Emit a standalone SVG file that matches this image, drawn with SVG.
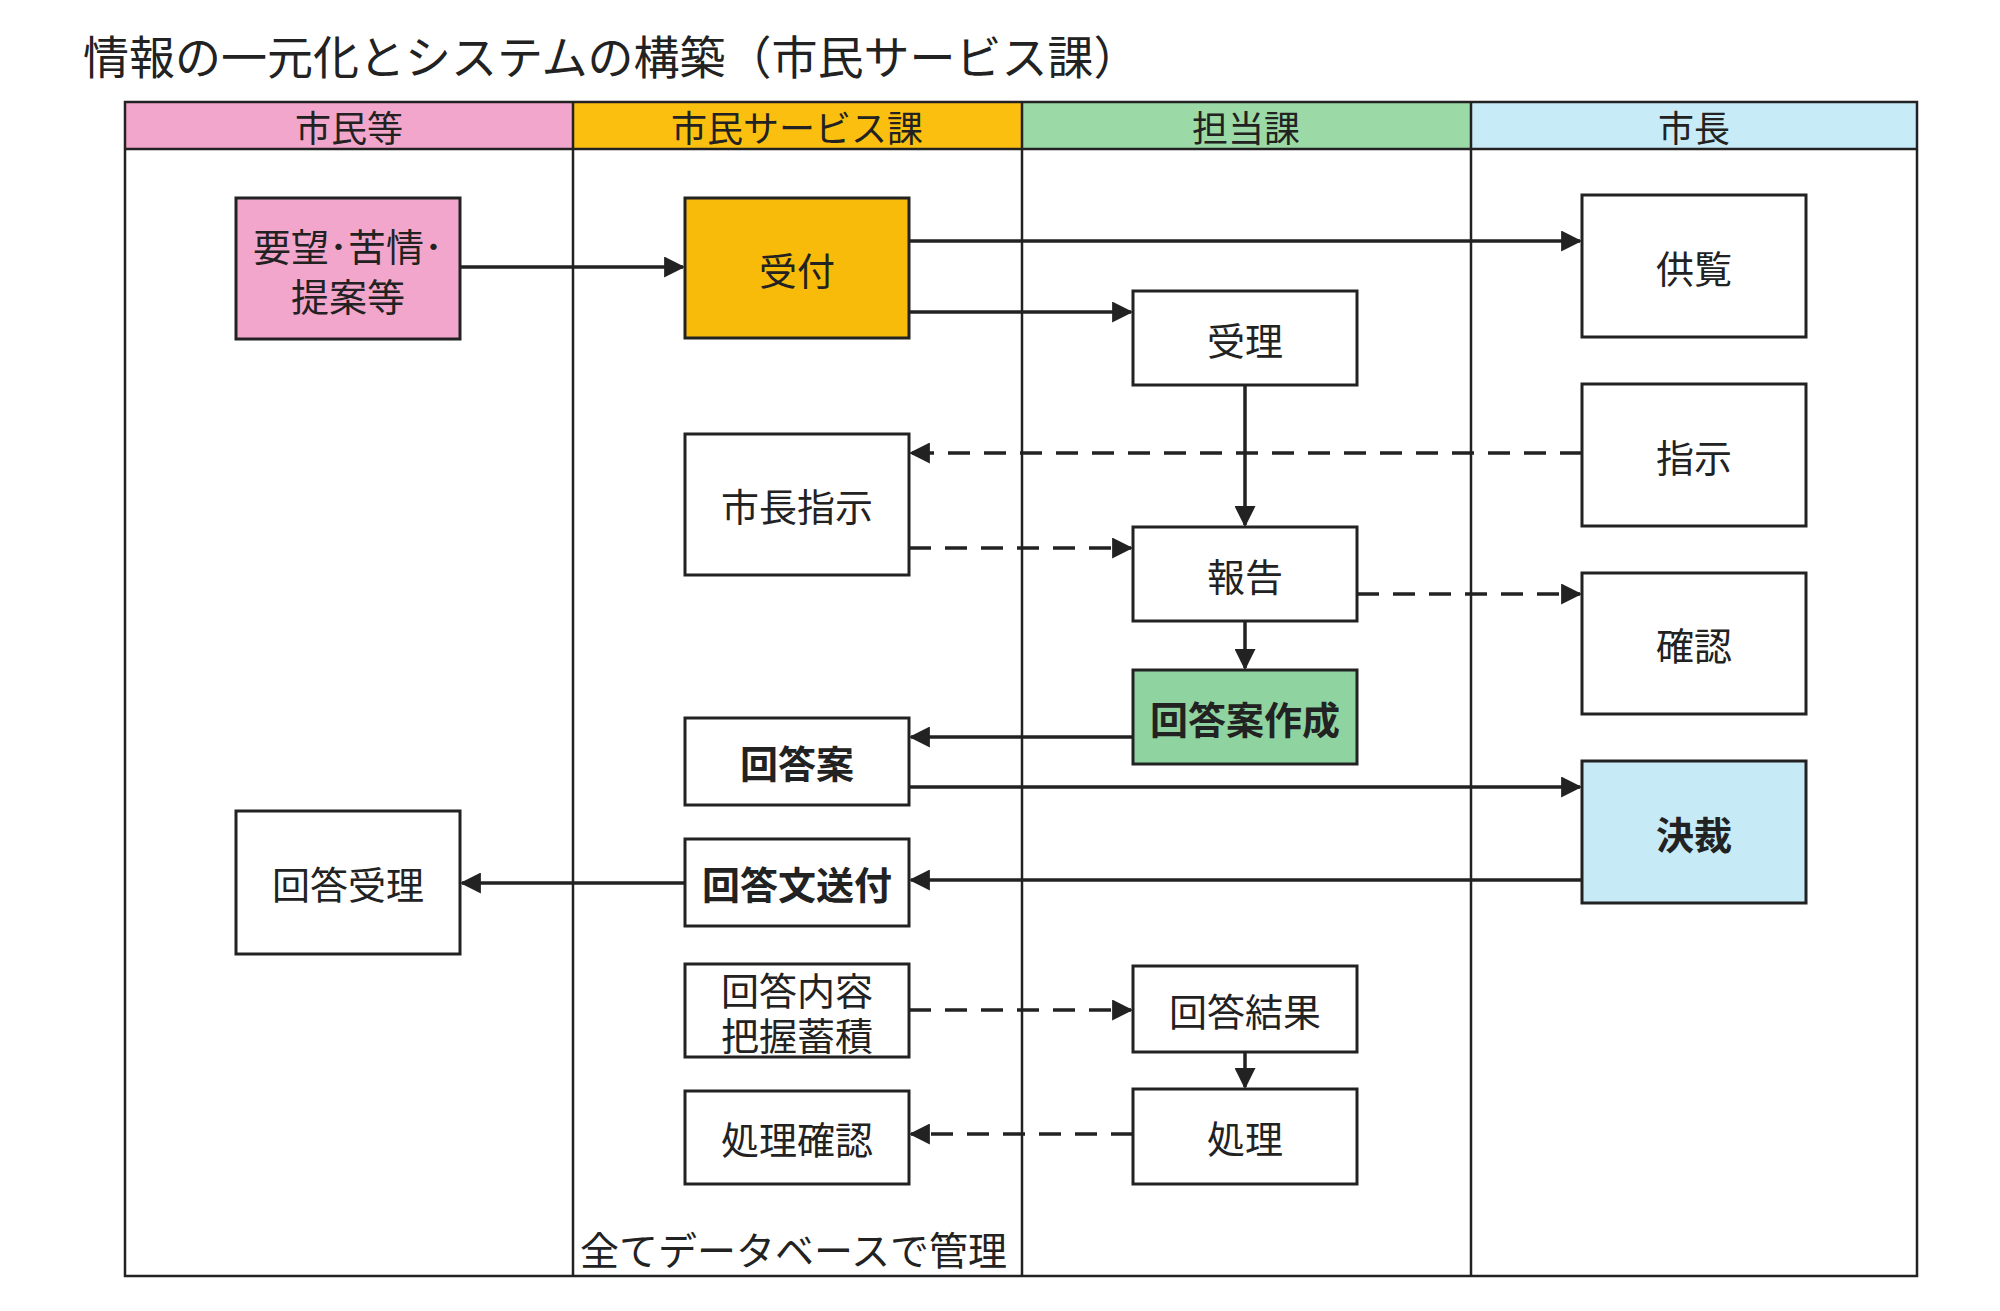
<svg xmlns="http://www.w3.org/2000/svg" width="2000" height="1311" viewBox="0 0 2000 1311">
<style>
text{font-family:"Noto Sans CJK JP","Liberation Sans",sans-serif;fill:#222}
.b{stroke:#222;stroke-width:3;fill:#fff}
.t{font-size:38px;text-anchor:middle;dominant-baseline:central}
.h{font-size:36px;text-anchor:middle;dominant-baseline:central}
.c{stroke:#222;stroke-width:3.5;fill:none;marker-end:url(#a)}
.d{stroke-dasharray:22 14}
.g{stroke:#222;stroke-width:2.5;fill:none}
</style>
<defs><marker id="a" viewBox="0 0 10 10" refX="9" refY="5" markerWidth="6" markerHeight="6" orient="auto"><path d="M0,0L10,5L0,10z" fill="#222"/></marker></defs>
<rect width="2000" height="1311" fill="#fff"/>
<text x="83" y="74" font-size="46">情報の一元化とシステムの構築（市民サービス課）</text>
<g id="lanes">
<rect x="125" y="102" width="448" height="47" fill="#f3a6cc"/>
<rect x="573" y="102" width="449" height="47" fill="#fbbf10"/>
<rect x="1022" y="102" width="449" height="47" fill="#9bd9a6"/>
<rect x="1471" y="102" width="446" height="47" fill="#c8ecf7"/>
<rect x="125" y="102" width="1792" height="1174" class="g"/>
<path class="g" d="M125 149H1917M573 102V1276M1022 102V1276M1471 102V1276"/>
<text class="h" x="349" y="126">市民等</text>
<text class="h" x="797" y="126">市民サービス課</text>
<text class="h" x="1246" y="126">担当課</text>
<text class="h" x="1694" y="126">市長</text>
</g>
<g id="n1"><rect class="b" x="236" y="198" width="224" height="141" style="fill:#f3a6cc"/><text class="t" x="348" y="244" font-size="36">要望･苦情･</text><text class="t" x="348" y="294" font-size="36">提案等</text></g>
<g id="n2"><rect class="b" x="685" y="198" width="224" height="140" style="fill:#f8bb0a"/><text class="t" x="797" y="268">受付</text></g>
<g id="n3"><rect class="b" x="1582" y="195" width="224" height="142"/><text class="t" x="1694" y="266">供覧</text></g>
<g id="n4"><rect class="b" x="1133" y="291" width="224" height="94"/><text class="t" x="1245" y="338">受理</text></g>
<g id="n5"><rect class="b" x="1582" y="384" width="224" height="142"/><text class="t" x="1694" y="455">指示</text></g>
<g id="n6"><rect class="b" x="685" y="434" width="224" height="141"/><text class="t" x="797" y="504">市長指示</text></g>
<g id="n7"><rect class="b" x="1133" y="527" width="224" height="94"/><text class="t" x="1245" y="574">報告</text></g>
<g id="n8"><rect class="b" x="1582" y="573" width="224" height="141"/><text class="t" x="1694" y="643">確認</text></g>
<g id="n9"><rect class="b" x="1133" y="670" width="224" height="94" style="fill:#8fd3a0"/><text class="t" x="1245" y="717" font-weight="bold">回答案作成</text></g>
<g id="n10"><rect class="b" x="685" y="718" width="224" height="87"/><text class="t" x="797" y="761" font-weight="bold">回答案</text></g>
<g id="n11"><rect class="b" x="1582" y="761" width="224" height="142" style="fill:#c6eaf6"/><text class="t" x="1694" y="832" font-weight="bold">決裁</text></g>
<g id="n12"><rect class="b" x="236" y="811" width="224" height="143"/><text class="t" x="348" y="882">回答受理</text></g>
<g id="n13"><rect class="b" x="685" y="839" width="224" height="87"/><text class="t" x="797" y="882" font-weight="bold">回答文送付</text></g>
<g id="n14"><rect class="b" x="685" y="964" width="224" height="93"/><text class="t" x="797" y="988" font-size="34">回答内容</text><text class="t" x="797" y="1033" font-size="34">把握蓄積</text></g>
<g id="n15"><rect class="b" x="1133" y="966" width="224" height="86"/><text class="t" x="1245" y="1009">回答結果</text></g>
<g id="n16"><rect class="b" x="685" y="1091" width="224" height="93"/><text class="t" x="797" y="1137">処理確認</text></g>
<g id="n17"><rect class="b" x="1133" y="1089" width="224" height="95"/><text class="t" x="1245" y="1136">処理</text></g>
<text x="580" y="1265" font-size="39">全てデータベースで管理</text>
<g id="connectors">
<path class="c" d="M460 267H683"/>
<path class="c" d="M909 241H1580"/>
<path class="c" d="M909 312H1131"/>
<path class="c" d="M1245 385V525"/>
<path class="c d" d="M1582 453H911"/>
<path class="c d" d="M909 548H1131"/>
<path class="c d" d="M1357 594H1580"/>
<path class="c" d="M1245 621V668"/>
<path class="c" d="M1133 737H911"/>
<path class="c" d="M909 787H1580"/>
<path class="c" d="M1582 880H911"/>
<path class="c" d="M685 883H462"/>
<path class="c d" d="M909 1010H1131"/>
<path class="c" d="M1245 1052V1087"/>
<path class="c d" d="M1133 1134H911"/>
</g>
</svg>
